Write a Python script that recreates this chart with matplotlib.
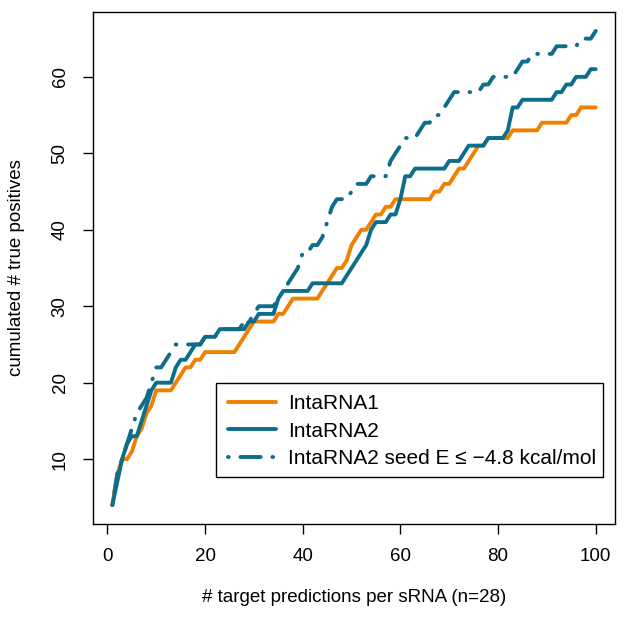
import matplotlib

matplotlib.use("Agg")
import matplotlib.pyplot as plt
import numpy as np
from matplotlib.patches import Rectangle

plt.rcParams["font.family"] = ["Liberation Sans", "DejaVu Sans"]

ranks = np.arange(1, 101)

# cumulated true positives at rank 1..100
intarna1 = [
    4, 8, 10, 10, 11, 13, 14, 16, 17, 19,
    19, 19, 19, 20, 21, 22, 22, 23, 23, 24,
    24, 24, 24, 24, 24, 24, 25, 26, 27, 28,
    28, 28, 28, 28, 29, 29, 30, 31, 31, 31,
    31, 31, 31, 32, 33, 34, 35, 35, 36, 38,
    39, 40, 40, 41, 42, 42, 43, 43, 44, 44,
    44, 44, 44, 44, 44, 44, 45, 45, 46, 46,
    47, 48, 48, 49, 50, 51, 51, 52, 52, 52,
    52, 52, 53, 53, 53, 53, 53, 53, 54, 54,
    54, 54, 54, 54, 55, 55, 56, 56, 56, 56,
]
intarna2 = [
    4, 7, 10, 12, 13, 13, 15, 17, 19, 20,
    20, 20, 20, 22, 23, 23, 24, 25, 25, 26,
    26, 26, 27, 27, 27, 27, 27, 27, 28, 28,
    29, 29, 29, 29, 31, 32, 32, 32, 32, 32,
    32, 33, 33, 33, 33, 33, 33, 33, 34, 35,
    36, 37, 38, 40, 41, 41, 41, 42, 42, 44,
    47, 47, 48, 48, 48, 48, 48, 48, 48, 49,
    49, 49, 50, 51, 51, 51, 51, 52, 52, 52,
    52, 53, 56, 56, 57, 57, 57, 57, 57, 57,
    57, 58, 58, 59, 59, 60, 60, 60, 61, 61,
]
intarna2_seed = [
    4, 8, 10, 12, 14, 16, 17, 18, 20, 22,
    22, 23, 24, 25, 25, 25, 25, 25, 25, 26,
    26, 26, 27, 27, 27, 27, 27, 28, 28, 29,
    30, 30, 30, 30, 31, 32, 33, 34, 35, 37,
    37, 38, 38, 39, 41, 43, 44, 44, 44, 45,
    46, 46, 46, 47, 47, 47, 47, 49, 50, 51,
    52, 52, 52, 53, 54, 54, 55, 55, 56, 57,
    58, 58, 58, 58, 58, 58, 59, 59, 60, 60,
    60, 60, 60, 61, 62, 62, 63, 63, 63, 63,
    63, 64, 64, 64, 64, 64, 65, 65, 65, 66,
]

ORANGE = "#F28000"
BLUE = "#0D6D8B"
FS = 13.5

fig = plt.figure(figsize=(6.3, 6.28), dpi=100)
ax = fig.add_axes([93 / 630, 1 - 524 / 628, 522 / 630, 512 / 628])

ax.plot(ranks, intarna1, color=ORANGE, lw=2.8, solid_capstyle="round",
        solid_joinstyle="round", label="IntaRNA1")
ax.plot(ranks, intarna2, color=BLUE, lw=2.8, solid_capstyle="round",
        solid_joinstyle="round", label="IntaRNA2")
ax.plot(ranks, intarna2_seed, color=BLUE, lw=2.8, dashes=(0.2, 3.0, 5.2, 3.0),
        dash_capstyle="round", label="IntaRNA2 seed E \u2264 \u22124.8 kcal/mol")

# R-style 4% padding around the data range
ax.set_xlim(1 - 0.04 * 99, 100 + 0.04 * 99)
ax.set_ylim(4 - 0.04 * 62, 66 + 0.04 * 62)
ax.set_xticks([0, 20, 40, 60, 80, 100])
ax.set_yticks([10, 20, 30, 40, 50, 60])
ax.tick_params(direction="out", length=7.5, width=1, labelsize=FS, pad=10)
for lab in ax.get_yticklabels():
    lab.set_rotation(90)
    lab.set_va("center")
for s in ax.spines.values():
    s.set_linewidth(1)

ax.set_xlabel("# target predictions per sRNA (n=28)", fontsize=FS, labelpad=17)
ax.set_ylabel("cumulated # true positives", fontsize=FS, labelpad=19)

leg = ax.legend(loc="upper left", bbox_to_anchor=(228 / 630, 1 - 394 / 628),
                bbox_transform=fig.transFigure, fontsize=15, frameon=False,
                borderpad=0, labelspacing=0.42, handlelength=2.3,
                handletextpad=0.6, borderaxespad=0)
fig.add_artist(Rectangle((216 / 630, 1 - 477 / 628), 387 / 630, 94 / 628,
                         transform=fig.transFigure, fill=False,
                         edgecolor="black", lw=1))

fig.savefig("out.png", dpi=100)
